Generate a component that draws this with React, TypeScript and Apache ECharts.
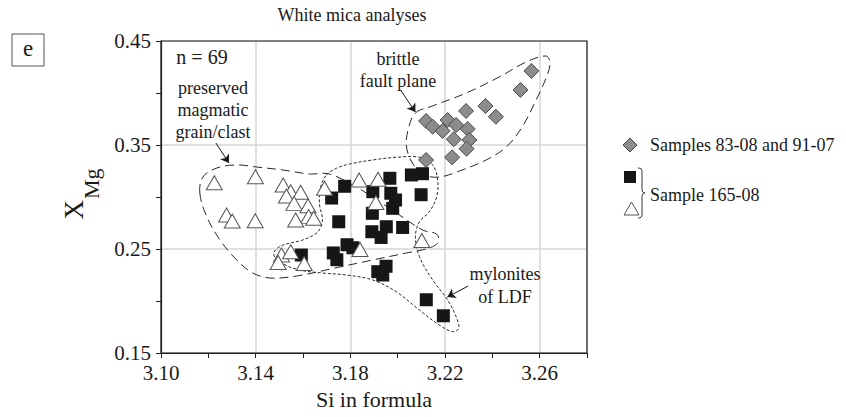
import React, { useEffect, useRef } from "react";
import * as echarts from "echarts";

const SERIF = "Liberation Serif, Times New Roman, serif";

// Axes
const X_MIN = 3.1;
const X_MAX = 3.28;
const X_STEP = 0.04;
const X_MINOR_STEP = 0.02;
const Y_MIN = 0.15;
const Y_MAX = 0.45;
const Y_STEP = 0.1;

// Samples 83-08 and 91-07 (grey diamonds)
const FAULT_PLANE: [number, number][] = [
  [3.2565, 0.4212], [3.2519, 0.4029], [3.2371, 0.3875], [3.2415, 0.3772],
  [3.2289, 0.3827], [3.212, 0.3731], [3.2148, 0.3676], [3.2211, 0.374],
  [3.219, 0.3635], [3.2247, 0.3692], [3.2296, 0.3654], [3.2237, 0.3555],
  [3.2303, 0.3548], [3.2291, 0.3464], [3.223, 0.3382], [3.212, 0.3356],
];

// Sample 165-08 (black squares)
const SAMPLE_165_SQ: [number, number][] = [
  [3.1776, 0.3103], [3.1721, 0.299], [3.1751, 0.2762], [3.1895, 0.3051],
  [3.1967, 0.318], [3.1971, 0.3036], [3.1991, 0.2971], [3.1979, 0.2891],
  [3.1893, 0.2843], [3.2058, 0.3212], [3.2105, 0.3224], [3.2099, 0.3022],
  [3.1952, 0.2714], [3.1891, 0.2666], [3.193, 0.2611], [3.2021, 0.2707],
  [3.1786, 0.2541], [3.1811, 0.2512], [3.1728, 0.2462], [3.1743, 0.2397],
  [3.1951, 0.2334], [3.1916, 0.2282], [3.1937, 0.225], [3.1593, 0.2442],
  [3.2121, 0.2012], [3.2193, 0.1858],
];

// Sample 165-08 (open triangles)
const SAMPLE_165_TRI: [number, number][] = [
  [3.1225, 0.3137], [3.1399, 0.3195], [3.1516, 0.3115], [3.1548, 0.3051],
  [3.159, 0.3045], [3.153, 0.301], [3.1562, 0.2939], [3.1621, 0.2916],
  [3.1624, 0.2811], [3.1645, 0.2795], [3.1569, 0.2779], [3.1277, 0.2827],
  [3.1301, 0.2769], [3.1398, 0.2772], [3.1691, 0.3084], [3.1509, 0.2442],
  [3.1548, 0.2474], [3.1495, 0.237], [3.1605, 0.2361], [3.1837, 0.3163],
  [3.1917, 0.317], [3.1908, 0.2947], [3.1841, 0.2495], [3.2102, 0.2582],
];

// Field outlines (data units)
const OUTLINE_MAGMATIC: [number, number][] = [
  [3.1164, 0.3038], [3.1177, 0.3192], [3.1236, 0.3279], [3.132, 0.3308],
  [3.1405, 0.3288], [3.1514, 0.326], [3.1628, 0.3221], [3.1712, 0.3221],
  [3.1847, 0.3067], [3.1995, 0.2846], [3.2105, 0.2683], [3.2164, 0.2644],
  [3.2172, 0.2567], [3.2134, 0.251], [3.2037, 0.2462], [3.1894, 0.2394],
  [3.1755, 0.2327], [3.1573, 0.224], [3.146, 0.2221], [3.1388, 0.2269],
  [3.132, 0.2394], [3.1249, 0.2587], [3.1194, 0.2808],
];
const OUTLINE_MYLONITE: [number, number][] = [
  [3.1699, 0.3212], [3.1741, 0.3276], [3.1797, 0.3317], [3.1895, 0.3356],
  [3.1994, 0.3382], [3.2092, 0.3382], [3.2148, 0.3308], [3.2169, 0.3163],
  [3.2165, 0.3003], [3.2134, 0.2859], [3.2092, 0.2762], [3.2075, 0.2618],
  [3.2092, 0.2426], [3.2148, 0.2202], [3.2211, 0.201], [3.2247, 0.1849],
  [3.2258, 0.1737], [3.2232, 0.1705], [3.2176, 0.1769], [3.2092, 0.1913],
  [3.1994, 0.2089], [3.1895, 0.2202], [3.1783, 0.225], [3.1683, 0.2269],
  [3.1586, 0.2298], [3.151, 0.2365], [3.1476, 0.2452], [3.1506, 0.2529],
  [3.1599, 0.2587], [3.1662, 0.2663], [3.1682, 0.2779], [3.167, 0.2923],
  [3.1673, 0.3084],
];
const OUTLINE_BRITTLE: [number, number][] = [
  [3.2075, 0.3808], [3.2147, 0.3875], [3.229, 0.4], [3.2429, 0.4154],
  [3.2543, 0.4298], [3.2627, 0.4356], [3.2644, 0.4288], [3.2627, 0.4144],
  [3.2585, 0.3933], [3.2526, 0.3673], [3.2459, 0.3481], [3.2374, 0.3356],
  [3.2261, 0.325], [3.2176, 0.3192], [3.2113, 0.3212], [3.2062, 0.3327],
  [3.2037, 0.349], [3.2046, 0.3663],
];

// Annotation arrows (from, to) in data units
const ARROW_MAGMATIC: [number, number][] = [[3.1232, 0.3519], [3.1287, 0.3327]];
const ARROW_BRITTLE: [number, number][] = [[3.2012, 0.4029], [3.2075, 0.3817]];
const ARROW_MYLONITE: [number, number][] = [[3.2298, 0.2144], [3.221, 0.2038]];

const OUTLINES = [
  { pts: OUTLINE_MAGMATIC, dash: [9, 5] },
  { pts: OUTLINE_MYLONITE, dash: [3, 2] },
  { pts: OUTLINE_BRITTLE, dash: [9, 5] },
];
const ARROWS = [ARROW_MAGMATIC, ARROW_BRITTLE, ARROW_MYLONITE];

const BRACE_D =
  "M0,0 C3,0 4,1 4,4 L4,21 C4,24 5,25 7,25 C5,25 4,26 4,29 L4,46 C4,49 3,50 0,50";

let braceRegistered = false;
function ensureBrace() {
  if (braceRegistered) return;
  try {
    const Brace = (echarts as any).graphic.extendPath(BRACE_D, {});
    (echarts as any).graphic.registerShape("brace", Brace);
  } catch (e) {
    // ignore
  }
  braceRegistered = true;
}

const fmt2 = (v: number) => v.toFixed(2);

function txt(
  text: string,
  x: number,
  y: number,
  size: number,
  align: string = "center",
  extra: any = {}
) {
  return {
    type: "text",
    x,
    y,
    z: 50,
    style: {
      text,
      fontSize: size,
      fontFamily: SERIF,
      fill: "#1a1a1a",
      align,
      textAlign: align,
      verticalAlign: "middle",
      textVerticalAlign: "middle",
      ...extra,
    },
  };
}

export default function App() {
  const ref = useRef<HTMLDivElement>(null);

  useEffect(() => {
    document.body.style.margin = "0";
    ensureBrace();
    if (!ref.current) return;
    const chart = echarts.init(ref.current, undefined, { renderer: "svg" });

    const option: any = {
      animation: false,
      backgroundColor: "#ffffff",
      textStyle: { fontFamily: SERIF },
      grid: { left: 161, right: 259, top: 41, bottom: 64, show: false },
      xAxis: [
        {
          type: "value",
          min: X_MIN,
          max: X_MAX,
          interval: X_STEP,
          position: "bottom",
          axisLine: { show: true, onZero: false, lineStyle: { color: "#222", width: 1.2 } },
          axisTick: { show: false },
          axisLabel: {
            formatter: fmt2,
            showMaxLabel: false,
            fontSize: 21,
            fontFamily: SERIF,
            color: "#1a1a1a",
            margin: 9,
          },
          splitLine: { show: true, lineStyle: { color: "#d6d6d6", width: 1.5 } },
          name: "Si in formula",
          nameLocation: "middle",
          nameGap: 35,
          nameTextStyle: { fontSize: 22, fontFamily: SERIF, color: "#1a1a1a" },
        },
        {
          type: "value",
          min: X_MIN,
          max: X_MAX,
          interval: X_MINOR_STEP,
          position: "bottom",
          axisLine: { show: false, onZero: false },
          axisTick: { show: true, inside: false, length: 5, lineStyle: { color: "#222", width: 1 } },
          axisLabel: { show: false },
          splitLine: { show: false },
        },
      ],
      yAxis: {
        type: "value",
        min: Y_MIN,
        max: Y_MAX,
        interval: Y_STEP,
        axisLine: { show: true, onZero: false, lineStyle: { color: "#222", width: 1.2 } },
        axisTick: { show: true, inside: false, length: 5, lineStyle: { color: "#222", width: 1 } },
        minorTick: { show: true, splitNumber: 2, length: 5, lineStyle: { color: "#222", width: 1 } },
        axisLabel: {
          formatter: fmt2,
          fontSize: 21,
          fontFamily: SERIF,
          color: "#1a1a1a",
          margin: 10,
        },
        splitLine: { show: true, lineStyle: { color: "#d6d6d6", width: 1.5 } },
      },
      series: [
        {
          type: "custom",
          coordinateSystem: "cartesian2d",
          xAxisIndex: 0,
          yAxisIndex: 0,
          silent: true,
          z: 1,
          data: OUTLINES.map((o) => [o.pts[0][0], o.pts[0][1]]),
          renderItem: (params: any, api: any) => {
            const o = OUTLINES[params.dataIndex];
            const pts = o.pts.map((p) => api.coord(p));
            return {
              type: "polygon",
              shape: { points: pts, smooth: 0.35 },
              style: { fill: "none", stroke: "#2a2a2a", lineWidth: 1, lineDash: o.dash },
            };
          },
        },
        {
          type: "lines",
          coordinateSystem: "cartesian2d",
          xAxisIndex: 0,
          yAxisIndex: 0,
          silent: true,
          z: 5,
          symbol: ["none", "arrow"],
          symbolSize: 8,
          lineStyle: { color: "#1a1a1a", width: 1, opacity: 1, curveness: 0 },
          data: ARROWS.map((a) => ({ coords: a })),
        },
        {
          type: "scatter",
          name: "Samples 83-08 and 91-07",
          xAxisIndex: 0,
          yAxisIndex: 0,
          z: 3,
          symbol: "diamond",
          symbolSize: 15,
          itemStyle: { color: "#8c8c8c", borderColor: "#4a4a4a", borderWidth: 1, opacity: 1 },
          data: FAULT_PLANE,
        },
        {
          type: "scatter",
          name: "Sample 165-08 (squares)",
          xAxisIndex: 0,
          yAxisIndex: 0,
          z: 3,
          symbol: "rect",
          symbolSize: 13,
          itemStyle: { color: "#161616", opacity: 1 },
          data: SAMPLE_165_SQ,
        },
        {
          type: "scatter",
          name: "Sample 165-08 (triangles)",
          xAxisIndex: 0,
          yAxisIndex: 0,
          z: 3,
          symbol: "triangle",
          symbolSize: [16, 14],
          itemStyle: { color: "#ffffff", borderColor: "#555", borderWidth: 1, opacity: 1 },
          data: SAMPLE_165_TRI,
        },
      ],
      graphic: [
        // plot frame
        {
          type: "rect",
          z: 40,
          silent: true,
          shape: { x: 161, y: 41, width: 426, height: 312 },
          style: { fill: "none", stroke: "#222", lineWidth: 1.2 },
        },
        // title
        txt("White mica analyses", 352, 15, 18),
        // panel letter
        {
          type: "rect",
          z: 40,
          shape: { x: 12, y: 34, width: 32, height: 32 },
          style: { fill: "none", stroke: "#555", lineWidth: 1 },
        },
        txt("e", 28, 48, 23),
        // y axis name X_Mg (rotated)
        {
          type: "group",
          x: 82,
          y: 191,
          rotation: Math.PI / 2,
          z: 50,
          children: [
            {
              type: "text",
              x: -9,
              y: -8,
              style: {
                text: "X",
                fontSize: 27,
                fontFamily: SERIF,
                fill: "#1a1a1a",
                align: "right",
                textAlign: "right",
                verticalAlign: "middle",
                textVerticalAlign: "middle",
              },
            },
            {
              type: "text",
              x: -8,
              y: 9,
              style: {
                text: "Mg",
                fontSize: 22,
                fontFamily: SERIF,
                fill: "#1a1a1a",
                align: "left",
                textAlign: "left",
                verticalAlign: "middle",
                textVerticalAlign: "middle",
              },
            },
          ],
        },
        // annotations
        txt("n = 69", 202, 57, 20),
        txt("preserved\nmagmatic\ngrain/clast", 213, 110, 18, "center", { lineHeight: 22 }),
        txt("brittle\nfault plane", 398, 70, 18, "center", { lineHeight: 22 }),
        txt("mylonites\nof LDF", 505, 285, 18, "center", { lineHeight: 23 }),
        // legend
        {
          type: "polygon",
          z: 50,
          shape: { points: [[630, 138], [637, 145], [630, 152], [623, 145]] },
          style: { fill: "#8c8c8c", stroke: "#4a4a4a", lineWidth: 1 },
        },
        txt("Samples 83-08 and 91-07", 650, 145, 18, "left"),
        {
          type: "rect",
          z: 50,
          shape: { x: 624, y: 171, width: 12, height: 12 },
          style: { fill: "#161616" },
        },
        {
          type: "polygon",
          z: 50,
          shape: { points: [[631.5, 202], [639, 215], [624, 215]] },
          style: { fill: "#ffffff", stroke: "#555", lineWidth: 1 },
        },
        {
          type: "brace",
          z: 50,
          x: 638,
          y: 168,
          scaleX: 1,
          scaleY: 1,
          style: { fill: "none", stroke: "#333", lineWidth: 1 },
        },
        txt("Sample 165-08", 650, 195, 18, "left"),
      ],
    };

    chart.setOption(option);
    return () => {
      chart.dispose();
    };
  }, []);

  return <div ref={ref} style={{ width: 846, height: 417 }} />;
}
